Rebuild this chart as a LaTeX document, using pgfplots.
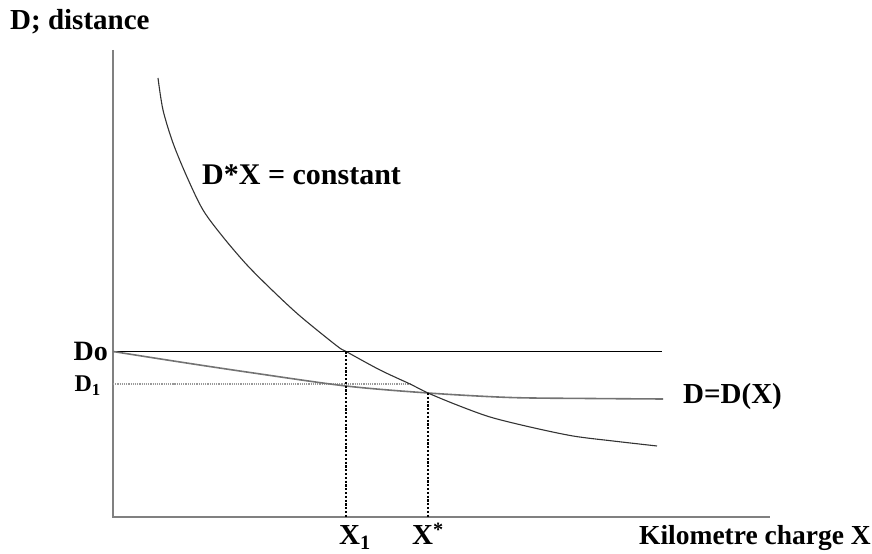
\documentclass[border=0pt]{standalone}
\usepackage{pgfplots}
\pgfplotsset{compat=1.18}
\usepackage{fontspec}
\setmainfont{Liberation Serif}
\tikzset{lbl/.style={font=\bfseries\fontsize{29bp}{32bp}\selectfont, inner sep=0pt}}
\begin{document}
\begin{tikzpicture}
\begin{axis}[
  x=1bp, y=1bp,
  scale only axis,
  xmin=0, xmax=872, ymin=0, ymax=554,
  hide axis, clip=false,
]
% extent
\addplot[draw=none] coordinates {(0,0) (872,554)};
% axes
\addplot[gray, line width=1.6bp] coordinates {(113,504) (113,37) (770,37)};
% Do horizontal
\addplot[black, line width=1.2bp] coordinates {(113,202.5) (662,202.5)};
% D1 dotted
\addplot[gray!80, line width=1.2bp, densely dotted] coordinates {(113,170) (410,170)};
% D = D(X)
\addplot[gray!90!black, line width=1.6bp, smooth] coordinates {
(113,202.5) (180,192) (250,181.5) (346,168) (428,161) (510,156.5) (590,155.5) (663,155)};
% hyperbola D*X = constant
\addplot[black!80, line width=1.1bp, smooth, tension=0.5] coordinates {
(158,476) (163,444) (173,411) (187,377) (203,344) (223,317) (247,289) (273,263)
(300,238) (337,208) (347,202) (380,184) (410,170) (428,161) (457,149) (490,137)
(530,127) (573,118) (613,113) (657,108)};
% dotted verticals
\addplot[black, line width=2.6bp, dash pattern=on 2.2bp off 1.6bp] coordinates {(346,202.5) (346,37)};
\addplot[black, line width=2.6bp, dash pattern=on 2.2bp off 1.6bp] coordinates {(428,161) (428,37)};
% labels
\node[lbl, anchor=west] at (axis cs:10,532) {D; distance};
\node[lbl, anchor=east, font=\bfseries\fontsize{28bp}{30bp}\selectfont] at (axis cs:108,203) {Do};
\node[lbl, anchor=east, font=\bfseries\fontsize{24bp}{26bp}\selectfont] at (axis cs:101,168) {D\textsubscript{1}};
\node[lbl, anchor=west, font=\bfseries\fontsize{30bp}{32bp}\selectfont] at (axis cs:202,379) {D*X = constant};
\node[lbl, anchor=west] at (axis cs:683,157) {D=D(X)};
\node[lbl, anchor=base west] at (axis cs:339,9) {X\textsubscript{1}};
\node[lbl, anchor=base west] at (axis cs:412,9) {X\textsuperscript{*}};
\node[lbl, anchor=base east, font=\bfseries\fontsize{27.5bp}{30bp}\selectfont] at (axis cs:871,9) {Kilometre charge X};
\end{axis}
\end{tikzpicture}
\end{document}
